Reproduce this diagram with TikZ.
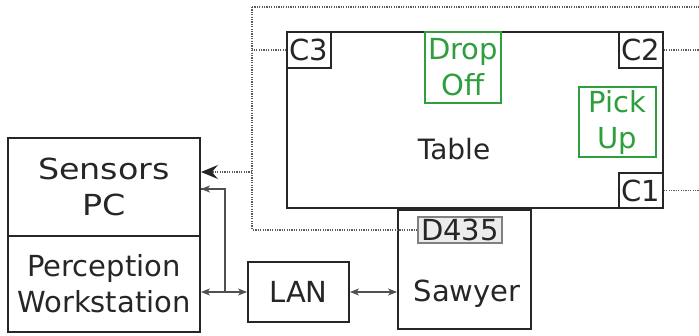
\documentclass[tikz,border=0pt]{standalone}
\usepackage{fontspec}
\usepackage{graphicx}
\setmainfont{DejaVu Sans}
\usetikzlibrary{arrows.meta,calc}
\definecolor{boxc}{HTML}{262626}
\definecolor{grn}{HTML}{2E9E3E}
\definecolor{lnc}{HTML}{505050}
\definecolor{dotc}{HTML}{5A5A5A}
\begin{document}
\begin{tikzpicture}[x=1pt,y=-1pt,
  bigf/.style={font=\fontsize{29}{36}\selectfont},
  txt/.style={bigf, text=boxc, align=center, inner sep=0pt},
  blk/.style={draw=boxc, line width=1.9pt, inner sep=0pt, bigf, text=boxc, align=center},
  corner/.style={draw=boxc, line width=1.6pt, inner sep=0pt, bigf, text=boxc, minimum width=44pt, minimum height=36pt},
  zone/.style={draw=grn, line width=1.4pt, inner sep=0pt, bigf, text=grn, align=center},
  conn/.style={draw=lnc, line width=1.1pt, >={Stealth[length=9pt,width=7pt,inset=2.5pt]}},
  dotl/.style={draw=dotc, line width=1.4pt, dash pattern=on 1.2pt off 1.2pt}
]
\useasboundingbox (0,0) rectangle (699,335);
% blocks
\node[blk, minimum width=192pt, minimum height=98pt] (sens) at (104,187)
  {\scalebox{1.15}[1]{Sensors}\\\scalebox{1.15}[1]{PC}};
\node[blk, minimum width=192pt, minimum height=96pt] (perc) at (104,284)
  {Perception\\Workstation};
\node[blk, minimum width=376pt, minimum height=176pt] (table) at (475,120) {};
\node[txt, font=\fontsize{28}{34}\selectfont] (tablelbl) at (454,149) {Table};
\node[corner] (c3) at (309,50) {C3};
\node[corner] (c2) at (641,50) {C2};
\node[corner, minimum height=35pt] (c1) at (641,190.5) {C1};
\node[zone, minimum width=76pt, minimum height=71pt] (drop) at (463,67.5) {Drop\\Off};
\node[zone, minimum width=77pt, minimum height=70pt] (pick) at (617.5,122) {Pick\\Up};
\node[blk, minimum width=133pt, minimum height=119pt] (sawyer) at (464.5,269.5) {};
\node[txt] (sawyerlbl) at (467,294) {Sawyer};
\node[draw=gray, fill=gray!15, line width=1.3pt, inner sep=0pt, minimum width=84pt, minimum height=26pt,
  bigf, text=boxc] (d435) at (460,230) {D435};
\node[blk, minimum width=101pt, minimum height=60pt] (lan) at (298.5,292) {LAN};
% solid connectors
\coordinate (j) at (225,292);
\coordinate (sa) at ($(sens.east)+(0,2)$);
\draw[conn, <->] (perc.east |- j) -- (lan.west);
\draw[conn] (j) |- (sa);
\draw[conn, ->] ($(sa)+(25,0)$) -- (sa);
\draw[conn, <->] (lan.east) -- (lan.east -| sawyer.west);
% dotted connectors
\coordinate (bt) at (252,7);
\coordinate (bb) at (252,230);
\coordinate (tr) at (702,7);
\coordinate (ra) at (702,50);
\coordinate (rb) at (702,190.5);
\coordinate (ar) at (252,172);
\coordinate (at) at (ar -| sens.east);
\draw[dotl] (bt) -- (bb);
\draw[dotl] (bt) -- (tr);
\draw[dotl] (c3.west) -- (c3.west -| bt);
\draw[dotl] (c2.east) -- (ra);
\draw[dotl] (c1.east) -- (rb);
\draw[dotl] (d435.west) -- (bb);
\draw[dotl] (ar) -- ($(at)+(10,0)$);
\fill[boxc] (at) -- ++(17,-7) -- ++(-6,7) -- ++(6,7) -- cycle;
\end{tikzpicture}
\end{document}
